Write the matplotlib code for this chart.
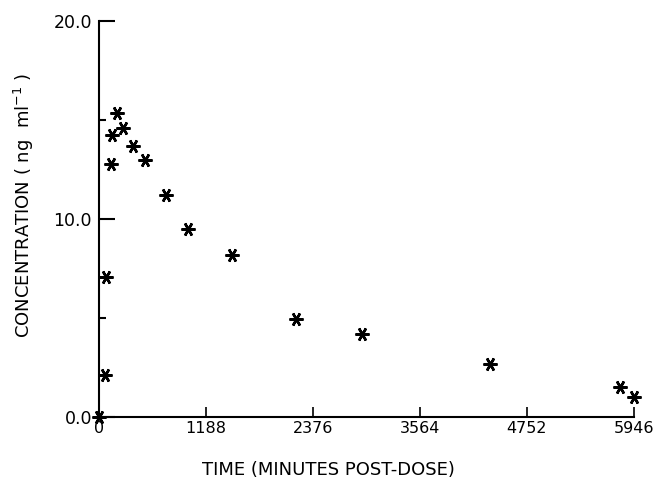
import numpy as np
import matplotlib.pyplot as plt

# time (minutes post-dose) and plasma concentration (ng/ml)
time_min = [0, 67, 78, 135, 140, 197, 263, 381, 511, 744, 985, 1474,
            2185, 2918, 4343, 5795, 5946]
conc = [0.0, 2.1, 7.05, 12.8, 14.25, 15.35, 14.6, 13.7, 13.0, 11.2, 9.5,
        8.2, 4.95, 4.2, 2.7, 1.5, 1.0]

x_ticks = [0, 1188, 2376, 3564, 4752, 5946]
y_major = [0.0, 10.0, 20.0]
y_minor = [5.0, 15.0]

fig = plt.figure(figsize=(6.63, 4.82), dpi=100)
ax = fig.add_axes([0.1493, 0.1349, 0.8069, 0.8216])

ax.plot(time_min, conc, linestyle="none", marker=(6, 2, 90),
        markersize=10, markeredgewidth=1.8, color="black", clip_on=False)

ax.set_xlim(0, 5946)
ax.set_ylim(0, 20)
ax.spines["top"].set_visible(False)
ax.spines["right"].set_visible(False)
for s in ("left", "bottom"):
    ax.spines[s].set_linewidth(1.5)

ax.set_xticks(x_ticks)
ax.set_xticklabels([str(t) for t in x_ticks], fontsize=11.5)
ax.set_yticks(y_major)
ax.set_yticklabels(["%.1f" % v for v in y_major], fontsize=12.5)
ax.set_yticks(y_minor, minor=True)
ax.tick_params(axis="y", which="major", direction="in", length=11.5, width=1.5, pad=5)
ax.tick_params(axis="y", which="minor", direction="in", length=5, width=1.5)
ax.tick_params(axis="x", which="major", direction="in", length=7, width=1.2, pad=3)

ax.set_xlabel("TIME (MINUTES POST-DOSE)", fontsize=13)
ax.xaxis.set_label_coords(0.428, -0.11)
ax.set_ylabel("CONCENTRATION ( ng  ml$^{-1}$ )", fontsize=13)
ax.yaxis.set_label_coords(-0.118, 0.535)

fig.savefig("out.png", dpi=100)
